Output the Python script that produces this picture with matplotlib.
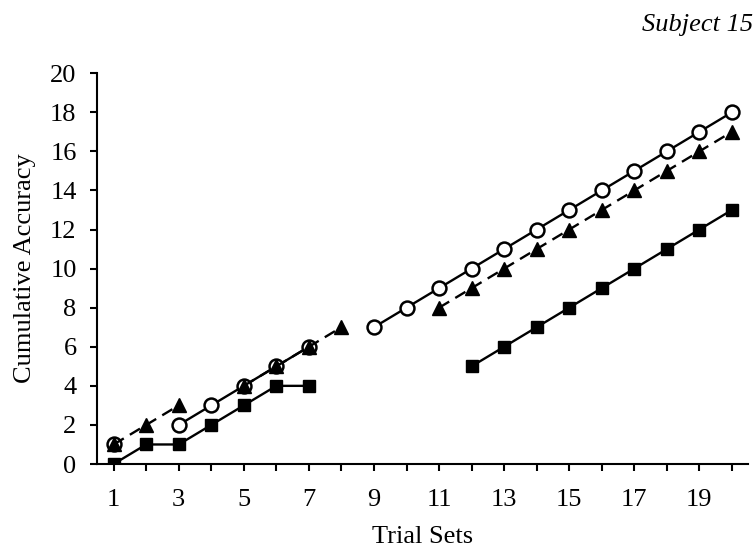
import matplotlib.pyplot as plt
import numpy as np

plt.rcParams["font.family"] = ["Liberation Serif", "DejaVu Serif"]

# Data (NaN = no trial set recorded, breaks the line)
trial_sets = np.arange(1, 21)
nan = np.nan
circles = [1, nan, 2, 3, 4, 5, 6, nan, 7, 8, 9, 10, 11, 12, 13, 14, 15, 16, 17, 18]
triangles = [1, 2, 3, nan, 4, 5, 6, 7, nan, nan, 8, 9, 10, 11, 12, 13, 14, 15, 16, 17]
squares = [0, 1, 1, 2, 3, 4, 4, nan, nan, nan, nan, 5, 6, 7, 8, 9, 10, 11, 12, 13]

fig = plt.figure(figsize=(7.55, 5.52), dpi=100)
ax = fig.add_axes([0.129, 0.1594, 0.862, 0.708])

ax.plot(trial_sets, circles, color="black", linewidth=1.7, marker="o",
        markersize=10, markerfacecolor="white", markeredgecolor="black",
        markeredgewidth=1.8, zorder=3)
ax.plot(trial_sets, triangles, color="black", linewidth=1.7, linestyle=(0, (5, 3)),
        marker="^", markersize=10, markerfacecolor="black",
        markeredgecolor="black", zorder=4)
ax.plot(trial_sets, squares, color="black", linewidth=1.7, marker="s",
        markersize=9, markerfacecolor="black", markeredgecolor="black",
        zorder=3)

# Axes
ax.set_xlim(0.5, 20.5)
ax.set_ylim(0, 20)
ax.set_xticks(np.arange(1, 21))
ax.set_xticklabels([str(i) if i % 2 == 1 else "" for i in range(1, 21)])
ax.set_yticks(np.arange(0, 21, 2))

ax.tick_params(axis="x", direction="out", length=5, width=1.5, labelsize=19, pad=13)
ax.tick_params(axis="y", direction="out", length=5, width=1.5, labelsize=19, pad=10)

ax.spines["top"].set_visible(False)
ax.spines["right"].set_visible(False)
ax.spines["left"].set_linewidth(1.5)
ax.spines["bottom"].set_linewidth(1.5)

ax.set_xlabel("Trial Sets", fontsize=19, labelpad=11)
ax.set_ylabel("Cumulative Accuracy", fontsize=19, labelpad=10)

fig.text(0.997, 0.955, "Subject 15", fontsize=19, style="italic",
         ha="right", va="center")

plt.savefig("out.png", dpi=100)
